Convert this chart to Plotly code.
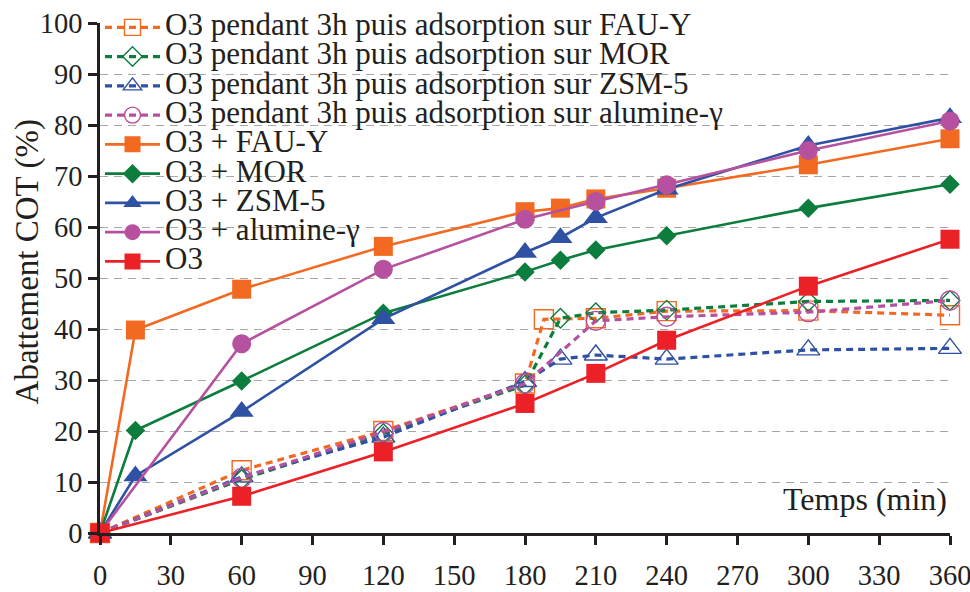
import plotly.graph_objects as go

# Time points (min) and TOC abatement (%) for each experiment
t_fau_ads = [0, 60, 120, 180, 188, 210, 240, 300, 360]
v_fau_ads = [0, 12.3, 20.0, 29.3, 41.9, 42.1, 43.5, 43.6, 42.7]
t_mor_ads = [0, 60, 120, 180, 195, 210, 240, 300, 360]
v_mor_ads = [0, 10.5, 19.5, 29.0, 42.1, 43.2, 43.7, 45.4, 45.6]
t_zsm_ads = [0, 60, 120, 180, 195, 210, 240, 300, 360]
v_zsm_ads = [0, 11.0, 18.8, 29.7, 34.1, 34.9, 34.1, 35.9, 36.2]
t_alu_ads = [0, 60, 120, 180, 210, 240, 300, 360]
v_alu_ads = [0, 10.8, 19.8, 29.3, 41.6, 42.4, 43.3, 45.6]

t_fau = [0, 15, 60, 120, 180, 195, 210, 240, 300, 360]
v_fau = [0, 39.8, 47.8, 56.2, 63.0, 63.7, 65.5, 67.6, 72.2, 77.3]
t_mor = [0, 15, 60, 120, 180, 195, 210, 240, 300, 360]
v_mor = [0, 20.1, 29.8, 43.1, 51.2, 53.5, 55.5, 58.3, 63.7, 68.4]
t_zsm = [0, 15, 60, 120, 180, 195, 210, 240, 300, 360]
v_zsm = [0, 11.2, 23.8, 42.0, 55.0, 57.9, 61.8, 67.4, 76.0, 81.4]
t_alu = [0, 60, 120, 180, 210, 240, 300, 360]
v_alu = [0, 37.1, 51.7, 61.5, 65.0, 68.3, 75.0, 80.8]
t_o3 = [0, 60, 120, 180, 210, 240, 300, 360]
v_o3 = [0, 7.2, 15.9, 25.4, 31.3, 37.8, 48.4, 57.6]

x_ticks = [0, 30, 60, 90, 120, 150, 180, 210, 240, 270, 300, 330, 360]
y_ticks = [0, 10, 20, 30, 40, 50, 60, 70, 80, 90, 100]

ORANGE = "#F26A21"
GREEN = "#0C7D3C"
BLUE = "#2F51A3"
PURPLE = "#B651A0"
RED = "#EC2027"
INK = "#231F20"

FONT = "Liberation Serif, Times New Roman, Times, DejaVu Serif, serif"
# legend labels: larger glyphs than the row pitch implied by the legend font size
LEG_SPAN = '<span style="font-size:31px">{}</span>'

fig = go.Figure()

dotted = [
    (t_fau_ads, v_fau_ads, ORANGE, "square-open", 19, "O3 pendant 3h puis adsorption sur FAU-Y"),
    (t_mor_ads, v_mor_ads, GREEN, "diamond-open", 15, "O3 pendant 3h puis adsorption sur MOR"),
    (t_zsm_ads, v_zsm_ads, BLUE, "triangle-up-open", 20, "O3 pendant 3h puis adsorption sur ZSM-5"),
    (t_alu_ads, v_alu_ads, PURPLE, "circle-open", 19, "O3 pendant 3h puis adsorption sur alumine-γ"),
]
for t, v, c, sym, sz, name in dotted:
    fig.add_trace(go.Scatter(
        x=t, y=v, name=LEG_SPAN.format(name), mode="lines+markers",
        line=dict(color=c, width=3.2, dash="7px,5px"),
        marker=dict(symbol=sym, size=sz, color=c, line=dict(color=c, width=1.4)),
        cliponaxis=False,
    ))

solid = [
    (t_fau, v_fau, ORANGE, "square", 19, "O3 + FAU-Y"),
    (t_mor, v_mor, GREEN, "diamond", 15, "O3 + MOR"),
    (t_zsm, v_zsm, BLUE, "triangle-up", 21, "O3 + ZSM-5"),
    (t_alu, v_alu, PURPLE, "circle", 19, "O3 + alumine-γ"),
    (t_o3, v_o3, RED, "square", 19, "O3"),
]
for t, v, c, sym, sz, name in solid:
    fig.add_trace(go.Scatter(
        x=t, y=v, name=LEG_SPAN.format(name), mode="lines+markers",
        line=dict(color=c, width=2.6),
        marker=dict(symbol=sym, size=sz, color=c, line=dict(width=0)),
        cliponaxis=False,
    ))

fig.update_layout(
    width=970, height=592,
    margin=dict(l=100, r=20, t=23, b=59, autoexpand=False),
    paper_bgcolor="white", plot_bgcolor="white",
    font=dict(family=FONT, size=28, color=INK),
    showlegend=True,
    legend=dict(
        x=0, y=1.03, xanchor="left", yanchor="top",
        bgcolor="rgba(0,0,0,0)", borderwidth=0,
        font=dict(family=FONT, size=20.2, color=INK),
        itemwidth=55, tracegroupgap=0,
    ),
    xaxis=dict(
        range=[0, 360], tickvals=x_ticks, ticktext=[str(v) for v in x_ticks],
        showgrid=False, zeroline=False, automargin=False,
        showline=True, linecolor=INK, linewidth=2.5,
        ticks="outside", ticklen=9, tickwidth=2.5, tickcolor=INK,
        tickfont=dict(family=FONT, size=28.5, color=INK),
        ticklabelstandoff=6, ticklabeloverflow="allow",
    ),
    yaxis=dict(
        range=[0, 100], tickvals=y_ticks, ticktext=[str(v) for v in y_ticks],
        showgrid=True, gridcolor="#A8A8A8", gridwidth=1, griddash="8px,6px",
        zeroline=False, automargin=False,
        showline=True, linecolor=INK, linewidth=2.5,
        ticks="outside", ticklen=9, tickwidth=2.5, tickcolor=INK,
        tickfont=dict(family=FONT, size=28.5, color=INK),
        ticklabeloverflow="allow",
    ),
    annotations=[
        dict(text="Abattement COT (%)", xref="paper", yref="paper",
             x=-0.085, y=0.532, xanchor="center", yanchor="middle",
             textangle=-90, showarrow=False,
             font=dict(family=FONT, size=33, color=INK)),
        dict(text="Temps (min)", xref="paper", yref="paper",
             x=0.9988, y=0.067, xanchor="right", yanchor="middle",
             showarrow=False,
             font=dict(family=FONT, size=32, color=INK)),
    ],
)

fig.write_html("out.html")
